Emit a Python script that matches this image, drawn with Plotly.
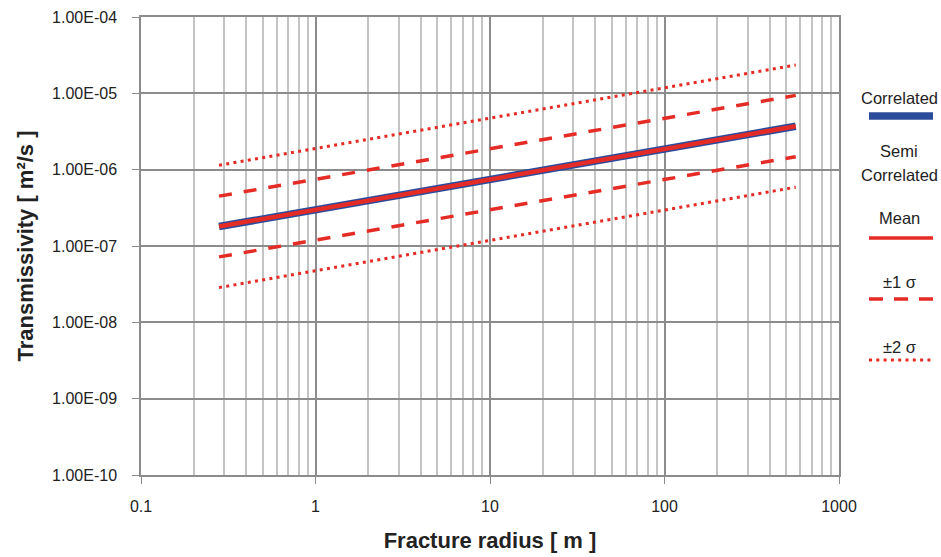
import plotly.graph_objects as go

# ---- data ----
radius = [0.28, 565]
correlated = [1.8e-7, 3.7e-6]
semi_mean = [1.8e-7, 3.7e-6]
semi_plus1 = [4.5e-7, 9.4e-6]
semi_minus1 = [7.2e-8, 1.48e-6]
semi_plus2 = [1.14e-6, 2.35e-5]
semi_minus2 = [2.85e-8, 5.9e-7]

x_tickvals = [0.1, 1, 10, 100, 1000]
x_ticktext = ["0.1", "1", "10", "100", "1000"]
y_tickvals = [1e-10, 1e-9, 1e-8, 1e-7, 1e-6, 1e-5, 1e-4]
y_ticktext = ["1.00E-10", "1.00E-09", "1.00E-08", "1.00E-07", "1.00E-06", "1.00E-05", "1.00E-04"]

BLUE = "#2b4b9b"
RED = "#e52b25"
FONT = "Liberation Sans, Arial, sans-serif"

W, H = 941, 557
ML, MR, MT, MB = 141, 102, 17, 82
PW = W - ML - MR
PH = H - MT - MB

def px(xp):
    return (xp - ML) / PW

def py(yp):
    return (H - MB - yp) / PH

fig = go.Figure()
fig.add_trace(go.Scatter(x=radius, y=correlated, mode="lines",
                         line=dict(color=BLUE, width=7.5), showlegend=False))
fig.add_trace(go.Scatter(x=radius, y=semi_mean, mode="lines",
                         line=dict(color=RED, width=4.5), showlegend=False))
for s in (semi_plus1, semi_minus1):
    fig.add_trace(go.Scatter(x=radius, y=s, mode="lines",
                             line=dict(color=RED, width=3.5, dash="13px,12px"), showlegend=False))
for s in (semi_plus2, semi_minus2):
    fig.add_trace(go.Scatter(x=radius, y=s, mode="lines",
                             line=dict(color=RED, width=3, dash="3px,4.3px"), showlegend=False))

minor_x = [m * 10 ** e for e in range(-1, 3) for m in range(2, 10)]

fig.update_xaxes(type="log", range=[-1, 3], automargin=False,
                 tickvals=x_tickvals, ticktext=x_ticktext,
                 showgrid=True, gridcolor="#8c8c8c", gridwidth=1.5,
                 minor=dict(tickvals=minor_x, showgrid=True, gridcolor="#c4c4c4", gridwidth=1.5, ticks=""),
                 showline=True, linecolor="#8c8c8c", linewidth=1.5, mirror=True,
                 ticks="outside", ticklen=7, tickcolor="#8c8c8c", tickwidth=1,
                 ticklabelstandoff=9, zeroline=False,
                 tickfont=dict(family=FONT, size=16, color="#222"),
                 title=dict(text="<b>Fracture radius [ m ]</b>", standoff=19,
                            font=dict(family=FONT, size=22, color="#222")))
fig.update_yaxes(type="log", range=[-10, -4], automargin=False,
                 tickvals=y_tickvals, ticktext=y_ticktext,
                 showgrid=True, gridcolor="#8c8c8c", gridwidth=1.5,
                 showline=True, linecolor="#8c8c8c", linewidth=1.5, mirror=True,
                 ticks="outside", ticklen=7, tickcolor="#8c8c8c", tickwidth=1,
                 ticklabelstandoff=12, zeroline=False,
                 tickfont=dict(family=FONT, size=16, color="#222"),
                 title=dict(text="<b>Transmissivity [ m²/s ]</b>", standoff=12,
                            font=dict(family=FONT, size=22, color="#222")))

# ---- custom legend ----
leg_font = dict(family=FONT, size=16.5, color="#222")
annos = [("Correlated", 98), ("Semi", 151), ("Correlated", 175), ("Mean", 218),
         ("±1 σ", 282), ("±2 σ", 347)]
for txt, yp in annos:
    fig.add_annotation(x=px(899), y=py(yp), xref="paper", yref="paper", text=txt,
                       showarrow=False, font=leg_font, xanchor="center", yanchor="middle")

shapes = [
    dict(y=116, color=BLUE, width=7.5, dash="solid"),
    dict(y=238, color=RED, width=3.5, dash="solid"),
    dict(y=299, color=RED, width=3.5, dash="14px,11px"),
    dict(y=360, color=RED, width=3, dash="3px,4.3px"),
]
for s in shapes:
    fig.add_shape(type="line", xref="paper", yref="paper",
                  x0=px(869), x1=px(933), y0=py(s["y"]), y1=py(s["y"]),
                  line=dict(color=s["color"], width=s["width"], dash=s["dash"]))

fig.update_layout(width=W, height=H, margin=dict(l=ML, r=MR, t=MT, b=MB),
                  plot_bgcolor="white", paper_bgcolor="white",
                  font=dict(family=FONT, color="#222"))

fig.write_html("out.html", config={"displayModeBar": False},
               post_script="document.body.style.margin='0';document.body.style.overflow='hidden';")
